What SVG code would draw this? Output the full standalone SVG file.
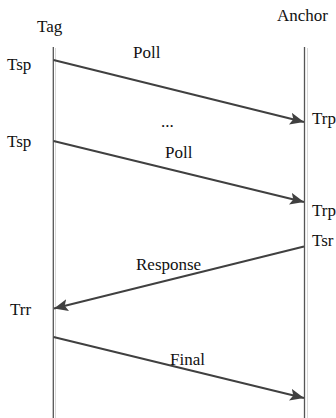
<svg xmlns="http://www.w3.org/2000/svg" width="336" height="418" viewBox="0 0 336 418">
<style>
text{font-family:"Liberation Serif","Times New Roman",serif;font-size:17px;fill:#111}
.life{stroke:#555;stroke-width:1.3}
.shadow{stroke:#d8d8d8;stroke-width:1}
.msg{stroke:#404040;stroke-width:2;fill:none}
</style>
<defs>
<marker id="ah" viewBox="0 0 14 12" refX="14" refY="6" markerWidth="14" markerHeight="12" markerUnits="userSpaceOnUse" orient="auto">
<path d="M0,0 L14,6 L0,12 L3,6 Z" fill="#404040"/>
</marker>
</defs>
<g id="tag">
<line class="shadow" x1="55.5" y1="48" x2="55.5" y2="418"/>
<line class="life" x1="53.3" y1="47" x2="53.3" y2="418"/>
<text x="37" y="32">Tag</text>
</g>
<g id="anchor">
<line class="shadow" x1="307.5" y1="48" x2="307.5" y2="418"/>
<line class="life" x1="304.5" y1="47" x2="304.5" y2="418"/>
<text x="277" y="21">Anchor</text>
</g>
<g id="labels">
<text x="7" y="70">Tsp</text>
<text x="7" y="147">Tsp</text>
<text x="10" y="315">Trr</text>
<text x="312" y="124">Trp</text>
<text x="312" y="216">Trp</text>
<text x="312" y="246">Tsr</text>
<text x="161" y="127">...</text>
</g>
<g id="connectors">
<line class="msg" x1="53.5" y1="60" x2="304" y2="122" marker-end="url(#ah)"/>
<text x="133" y="58">Poll</text>
<line class="msg" x1="53.5" y1="141" x2="304" y2="202" marker-end="url(#ah)"/>
<text x="165" y="158">Poll</text>
<line class="msg" x1="304" y1="246.5" x2="54" y2="308.5" marker-end="url(#ah)"/>
<text x="136" y="270">Response</text>
<line class="msg" x1="53.5" y1="337" x2="304" y2="398" marker-end="url(#ah)"/>
<text x="170" y="365">Final</text>
</g>
</svg>
